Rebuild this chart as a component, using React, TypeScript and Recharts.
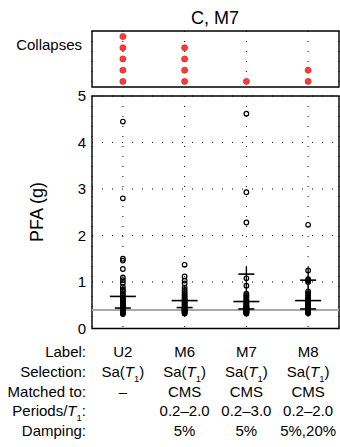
import React from "react";
import {
  ComposedChart,
  ScatterChart,
  Scatter,
  XAxis,
  YAxis,
  CartesianGrid,
  ReferenceLine,
  ReferenceArea,
} from "recharts";

const FONT = "'Liberation Sans', Arial, Helvetica, sans-serif";

// table rows under the axis
const categories = ["U2", "M6", "M7", "M8"];
const selectionRow = ["Sa(T_1)", "Sa(T_1)", "Sa(T_1)", "Sa(T_1)"];
const matchedRow = ["–", "CMS", "CMS", "CMS"];
const periodsRow = ["", "0.2–2.0", "0.2–3.0", "0.2–2.0"];
const dampingRow = ["", "5%", "5%", "5%,20%"];
const rowHeaders = ["Label:", "Selection:", "Matched to:", "Periods/T_1:", "Damping:"];

// PFA (g) of each ground motion
const pfaU2 = [
  4.45, 2.8, 1.5, 1.46, 1.28, 1.1, 1.04, 0.98, 0.9, 0.84, 0.8, 0.75, 0.71, 0.67,
  0.64, 0.61, 0.58, 0.56, 0.54, 0.52, 0.5, 0.48, 0.47, 0.46, 0.45, 0.44, 0.43,
  0.42, 0.41, 0.4, 0.39, 0.38, 0.37, 0.35, 0.33, 0.31,
];
const pfaM6 = [
  1.37, 1.12, 1.03, 0.97, 0.88, 0.83, 0.79, 0.75, 0.71, 0.68, 0.65, 0.62, 0.6,
  0.58, 0.56, 0.54, 0.52, 0.5, 0.48, 0.46, 0.45, 0.44, 0.43, 0.42, 0.41, 0.4,
  0.39, 0.38, 0.37, 0.36, 0.35, 0.33, 0.32,
];
const pfaM7 = [
  4.62, 2.93, 2.28, 1.08, 0.92, 0.75, 0.72, 0.69, 0.66, 0.63, 0.6, 0.58, 0.56,
  0.54, 0.52, 0.5, 0.48, 0.47, 0.46, 0.45, 0.44, 0.43, 0.42, 0.41, 0.4, 0.39,
  0.38, 0.37, 0.36, 0.35, 0.34, 0.33, 0.32,
];
const pfaM8 = [
  2.23, 1.25, 1.06, 1.03, 1.0, 0.8, 0.76, 0.72, 0.68, 0.65, 0.62, 0.6, 0.58,
  0.56, 0.54, 0.52, 0.5, 0.48, 0.47, 0.46, 0.45, 0.44, 0.43, 0.42, 0.41, 0.4,
  0.39, 0.38, 0.37, 0.36, 0.35, 0.34, 0.33,
];
const medianPfa = [0.69, 0.6, 0.58, 0.6];
const lowerPfa = [0.44, 0.45, 0.42, 0.42];
const upperPfa = [null, null, 1.17, 1.04];
const rangeLow = [0.27, 0.29, 0.28, 0.28];
const rangeHigh = [0.9, 0.9, 1.33, 1.31];
const threshold = 0.4;

const collapseCounts = [5, 4, 1, 2];

const pfaSets = [pfaU2, pfaM6, pfaM7, pfaM8];
const circles = pfaSets.flatMap((vals, i) => vals.map((v) => ({ x: i + 1, y: v })));
const medianPts = medianPfa.map((v, i) => ({ x: i + 1, y: v }));
const lowerPts = lowerPfa.map((v, i) => ({ x: i + 1, y: v }));
const upperPts = upperPfa
  .map((v, i) => (v == null ? null : { x: i + 1, y: v }))
  .filter(Boolean);
const collapsePts = collapseCounts.flatMap((n, i) =>
  Array.from({ length: n }, (_, k) => ({ x: i + 1, y: k + 1 }))
);

const OpenCircle = (p: any) => (
  <circle cx={p.cx} cy={p.cy} r={2.3} fill="none" stroke="#000" strokeWidth={1.2} />
);
const hLine = (half: number) => (p: any) =>
  (
    <line x1={p.cx - half} x2={p.cx + half} y1={p.cy} y2={p.cy} stroke="#000" strokeWidth={1.6} />
  );
const RedDot = (p: any) => (
  <circle cx={p.cx} cy={p.cy} r={3} fill="#ff3b3b" stroke="#d42a2a" strokeWidth={0.8} />
);
const NoShape = () => <g />;

const Sub1 = ({ text }: { text: string }) => {
  const idx = text.indexOf("T_1");
  if (idx < 0) return <>{text}</>;
  return (
    <>
      <tspan>{text.slice(0, idx)}</tspan>
      <tspan fontStyle="italic">T</tspan>
      <tspan dy={4.5} fontSize={9.5}>
        1
      </tspan>
      <tspan dy={-4.5}>{text.slice(idx + 3)}</tspan>
    </>
  );
};

const rowOffsets = [28.5, 48.5, 68, 87.5, 107];

const TableTick = (props: any) => {
  const { x, y, payload } = props;
  const i = payload.value - 1;
  const cells = [categories[i], selectionRow[i], matchedRow[i], periodsRow[i], dampingRow[i]];
  return (
    <g>
      {cells.map((c, r) => (
        <text
          key={r}
          x={x}
          y={y + rowOffsets[r]}
          textAnchor="middle"
          fontSize={15}
          fontFamily={FONT}
          fill="#000"
        >
          <Sub1 text={c} />
        </text>
      ))}
    </g>
  );
};

export default function App() {
  return (
    <div
      style={{
        position: "absolute",
        left: 0,
        top: 0,
        width: 340,
        height: 447,
        background: "#fff",
        fontFamily: FONT,
      }}
    >
      <div style={{ position: "absolute", left: 0, top: 0 }}>
        <ComposedChart
          width={340}
          height={447}
          margin={{ top: 96, right: 1, bottom: 0, left: 0 }}
        >
          <CartesianGrid stroke="#000" strokeDasharray="1 9" strokeWidth={1} />
          <XAxis
            type="number"
            dataKey="x"
            domain={[0.5, 4.5]}
            ticks={[1, 2, 3, 4]}
            height={118.5}
            axisLine={false}
            tickLine={false}
            tickSize={0}
            tickMargin={0}
            tick={<TableTick />}
            interval={0}
          />
          <YAxis
            type="number"
            dataKey="y"
            domain={[0, 5]}
            ticks={[0, 1, 2, 3, 4, 5]}
            width={92}
            axisLine={false}
            tickLine={false}
            tickSize={0}
            tickMargin={6}
            tick={{ fill: "#000", fontSize: 15, fontFamily: FONT }}
          />
          <ReferenceLine y={threshold} stroke="#aaaaaa" strokeWidth={2} />
          {categories.map((c, i) => (
            <Scatter
              key={c}
              data={[
                { x: i + 1, y: rangeLow[i] },
                { x: i + 1, y: rangeHigh[i] },
              ]}
              line={{ stroke: "#000", strokeWidth: 1.4 }}
              shape={NoShape}
              isAnimationActive={false}
            />
          ))}
          <Scatter data={circles} shape={OpenCircle} isAnimationActive={false} />
          <Scatter data={medianPts} shape={hLine(13)} isAnimationActive={false} />
          <Scatter data={lowerPts} shape={hLine(8)} isAnimationActive={false} />
          <Scatter data={upperPts} shape={hLine(8)} isAnimationActive={false} />
          <ReferenceArea
            x1={0.5}
            x2={4.5}
            y1={0}
            y2={5}
            fill="none"
            stroke="#000"
            strokeWidth={1.4}
            ifOverflow="visible"
          />
        </ComposedChart>
      </div>
      <div style={{ position: "absolute", left: 0, top: 0 }}>
        <ScatterChart
          width={340}
          height={95}
          margin={{ top: 31, right: 1, bottom: 8, left: 92 }}
        >
          <CartesianGrid
            stroke="#000"
            strokeDasharray="1 9"
            strokeWidth={1}
            horizontal={false}
          />
          <XAxis type="number" dataKey="x" domain={[0.5, 4.5]} ticks={[1, 2, 3, 4]} hide />
          <YAxis type="number" dataKey="y" domain={[0.5, 5.5]} hide />
          <Scatter data={collapsePts} shape={RedDot} isAnimationActive={false} />
          <ReferenceArea
            x1={0.5}
            x2={4.5}
            y1={0.5}
            y2={5.5}
            fill="none"
            stroke="#000"
            strokeWidth={1.4}
            ifOverflow="visible"
          />
        </ScatterChart>
      </div>
      <svg
        width={340}
        height={447}
        style={{ position: "absolute", left: 0, top: 0, pointerEvents: "none" }}
        fontFamily={FONT}
      >
        <text x={215} y={23.5} textAnchor="middle" fontSize={18}>
          C, M7
        </text>
        <text x={82} y={50} textAnchor="end" fontSize={15}>
          Collapses
        </text>
        <text
          transform="translate(43,212) rotate(-90)"
          textAnchor="middle"
          fontSize={18}
        >
          PFA (g)
        </text>
        {rowHeaders.map((h, r) => (
          <text key={h} x={86} y={328.5 + rowOffsets[r]} textAnchor="end" fontSize={15}>
            <Sub1 text={h} />
          </text>
        ))}
      </svg>
    </div>
  );
}
